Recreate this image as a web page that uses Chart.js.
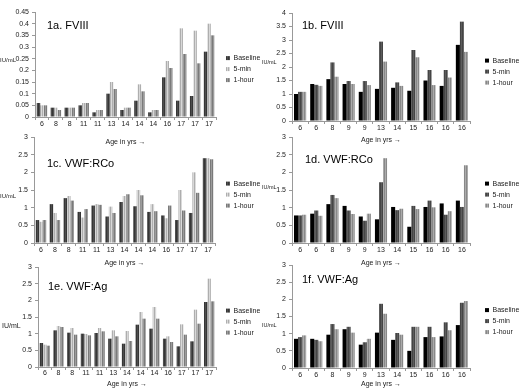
<!DOCTYPE html>
<html><head><meta charset="utf-8">
<script src="https://cdn.jsdelivr.net/npm/chart.js@4.4.1/dist/chart.umd.min.js"></script>
<style>
html,body{margin:0;padding:0;background:#fff;}
#wrap{position:relative;width:520px;height:389px;overflow:hidden;}
.c{position:absolute;}
</style></head><body>
<div id="wrap">
<div class="c" style="left:0;top:0;width:264px;height:146px"><canvas id="ca"></canvas></div>
<div class="c" style="left:260px;top:0;width:260px;height:144px"><canvas id="cb"></canvas></div>
<div class="c" style="left:0;top:124px;width:264px;height:143px"><canvas id="cc"></canvas></div>
<div class="c" style="left:260px;top:124px;width:260px;height:143px"><canvas id="cd"></canvas></div>
<div class="c" style="left:0;top:254px;width:264px;height:134px"><canvas id="ce"></canvas></div>
<div class="c" style="left:260px;top:254px;width:260px;height:134px"><canvas id="cf"></canvas></div>
</div>
<script>
// ---- data ----
const seriesNames = ["Baseline", "5-min", "1-hour"];
const yUnit = "IU/mL";
const xTitle = "Age in yrs \u2192";

const agesLeft = ["6","8","8","11","11","13","14","14","14","16","17","17","17"];
const agesRight = ["6","6","8","9","9","13","14","15","16","16","16"];

const ticksFVIIIa = [0,0.05,0.1,0.15,0.2,0.25,0.3,0.35,0.4,0.45];
const ticksFVIIIb = [0,0.5,1,1.5,2,2.5,3,3.5,4];
const ticksVWF = [0,0.5,1,1.5,2,2.5,3];

const a_title = "1a. FVIII";
const a_base = [0.06,0.04,0.04,0.05,0.02,0.10,0.03,0.07,0.02,0.17,0.07,0.09,0.28];
const a_5min = [0.05,0.04,0.04,0.06,0.03,0.15,0.04,0.14,0.03,0.24,0.38,0.37,0.40];
const a_1hr  = [0.05,0.03,0.04,0.06,0.03,0.12,0.04,0.11,0.03,0.21,0.27,0.23,0.35];

const b_title = "1b. FVIII";
const b_base = [1.00,1.37,1.55,1.37,1.08,1.19,1.23,1.12,1.50,1.30,2.82];
const b_5min = [1.08,1.34,2.17,1.48,1.48,2.94,1.43,2.63,1.89,1.89,3.68];
const b_1hr  = [1.08,1.30,1.64,1.37,1.33,2.20,1.30,2.36,1.33,1.61,2.56];

const c_title = "1c. VWF:RCo";
const c_base = [0.65,1.10,1.27,0.88,1.06,0.75,1.16,1.04,0.88,0.78,0.65,0.85,2.40];
const c_5min = [0.60,0.85,1.33,0.72,1.10,1.03,1.33,1.50,1.10,0.70,1.50,2.00,2.40];
const c_1hr  = [0.65,0.65,1.20,0.96,1.08,0.85,1.38,1.35,0.90,1.06,0.92,1.42,2.37];

const d_title = "1d. VWF:RCo";
const d_base = [0.78,0.83,1.10,1.05,0.75,0.67,1.02,0.46,1.02,1.12,1.20];
const d_5min = [0.78,0.92,1.36,0.92,0.63,1.72,0.93,1.05,1.20,0.80,1.02];
const d_1hr  = [0.80,0.77,1.27,0.82,0.83,2.40,0.97,0.96,1.01,0.90,2.20];

const e_title = "1e. VWF:Ag";
const e_base = [0.72,1.10,1.03,1.00,1.02,0.85,0.70,1.27,1.15,0.85,0.62,0.77,1.95];
const e_5min = [0.67,1.23,1.17,0.99,1.17,1.10,1.08,1.65,1.80,0.92,1.28,1.72,2.65];
const e_1hr  = [0.64,1.20,0.97,0.95,1.07,0.92,0.78,1.45,1.45,0.75,0.97,1.30,1.97];

const f_title = "1f. VWF:Ag";
const f_base = [0.85,0.85,0.97,1.13,0.68,1.03,0.82,0.50,0.90,0.92,1.25];
const f_5min = [0.90,0.82,1.28,1.20,0.75,1.87,1.02,1.20,1.20,1.33,1.90];
const f_1hr  = [0.95,0.78,1.13,1.03,0.85,1.58,0.97,1.20,0.90,1.10,1.95];

// ---- styling ----
const FONT = "'Liberation Sans', Arial, sans-serif";
function stripe(c1, c2) {
  const p = document.createElement('canvas'); p.width = 2; p.height = 2;
  const g = p.getContext('2d');
  g.fillStyle = c1; g.fillRect(0,0,2,2);
  g.fillStyle = c2; g.fillRect(1,0,1,2);
  return g.createPattern(p, 'repeat');
}
const leftColors = [stripe('#363636','#4e4e4e'), stripe('#aeaeae','#d8d8d8'), stripe('#7a7a7a','#9c9c9c')];
const rightColors = ['#000000', stripe('#454545','#5c5c5c'), stripe('#888888','#ababab')];

const panelText = {
  id: 'panelText',
  afterDraw(chart, args, o) {
    const ctx = chart.ctx, a = chart.chartArea;
    ctx.save();
    ctx.fillStyle = '#000';
    ctx.font = "11px " + FONT;
    ctx.textBaseline = 'middle';
    ctx.textAlign = 'left';
    ctx.fillText(o.title, a.left + o.tx, a.top + o.ty);
    ctx.font = o.us + "px " + FONT;
    ctx.fillStyle = '#222';
    ctx.fillText(yUnit, o.ux, a.top + (a.bottom - a.top) * o.uy);
    ctx.restore();
  }
};
Chart.register(panelText);

function make(id, title, labels, s, colors, yTicks, p) {
  new Chart(document.getElementById(id), {
    type: 'bar',
    data: {
      labels: labels,
      datasets: s.map((d, i) => ({
        label: seriesNames[i], data: d, backgroundColor: colors[i],
        borderWidth: 0, categoryPercentage: 0.75, barPercentage: 1.0
      }))
    },
    options: {
      responsive: true, maintainAspectRatio: false, animation: false,
      layout: { padding: { top: p.pt, right: 0, bottom: 0, left: 0 } },
      plugins: {
        tooltip: { enabled: false },
        legend: {
          position: 'right', align: 'center', fullSize: false, maxWidth: p.lw,
          title: { display: true, text: ' ', font: { size: 1 }, padding: 4 },
          labels: { boxWidth: 4, boxHeight: 4, padding: 4, color: '#222',
                    font: { family: FONT, size: 7 } }
        },
        panelText: { title: title, tx: p.tx, ty: p.ty, ux: p.ux, uy: p.uy, us: p.us }
      },
      scales: {
        x: {
          afterFit: (sc) => { sc.height = p.xh; },
          grid: { drawOnChartArea: false, tickLength: 3, color: '#999', offset: true },
          border: { color: '#999' },
          ticks: { color: '#222', font: { family: FONT, size: 7 }, padding: p.tp, maxRotation: 0, autoSkip: false },
          title: { display: true, text: xTitle, color: '#222', font: { family: FONT, size: 7 }, padding: { top: 0, bottom: 0 } }
        },
        y: {
          min: 0, max: yTicks[yTicks.length - 1],
          afterFit: (sc) => { sc.width = p.yw; },
          afterBuildTicks: (sc) => { sc.ticks = yTicks.map(v => ({ value: v })); },
          grid: { drawOnChartArea: false, tickLength: 3, color: '#999' },
          border: { color: '#999' },
          ticks: { color: '#222', font: { family: FONT, size: 7 }, padding: 3, autoSkip: false,
                   callback: (v) => String(+Number(v).toFixed(2)) }
        },
        gap: {
          type: 'linear', position: 'right', display: true,
          afterFit: (sc) => { sc.width = p.gap; },
          grid: { display: false }, border: { display: false }, ticks: { display: false }
        }
      }
    }
  });
}

make('ca', a_title, agesLeft, [a_base,a_5min,a_1hr], leftColors, ticksFVIIIa,
     {pt:12, xh:29, tp:0, yw:35, gap:6, lw:42, tx:12, ty:14, ux:0, uy:0.46, us:6});
make('cb', b_title, agesRight, [b_base,b_5min,b_1hr], rightColors, ticksFVIIIb,
     {pt:13, xh:23, tp:0, yw:32, gap:11, lw:39, tx:10, ty:13, ux:2, uy:0.46, us:5.5});
make('cc', c_title, agesLeft, [c_base,c_5min,c_1hr], leftColors, ticksVWF,
     {pt:13, xh:24, tp:0, yw:34, gap:7, lw:42, tx:13, ty:27, ux:0, uy:0.56, us:6});
make('cd', d_title, agesRight, [d_base,d_5min,d_1hr], rightColors, ticksVWF,
     {pt:13, xh:24, tp:0, yw:32, gap:11, lw:39, tx:13, ty:23, ux:2, uy:0.48, us:5.5});
make('ce', e_title, agesLeft, [e_base,e_5min,e_1hr], leftColors, ticksVWF,
     {pt:13, xh:21, tp:-1, yw:38, gap:6, lw:42, tx:10, ty:20, ux:2, uy:0.59, us:7});
make('cf', f_title, agesRight, [f_base,f_5min,f_1hr], rightColors, ticksVWF,
     {pt:11, xh:20, tp:0, yw:32, gap:11, lw:39, tx:10, ty:15, ux:2, uy:0.59, us:5.5});
</script>
</body></html>
